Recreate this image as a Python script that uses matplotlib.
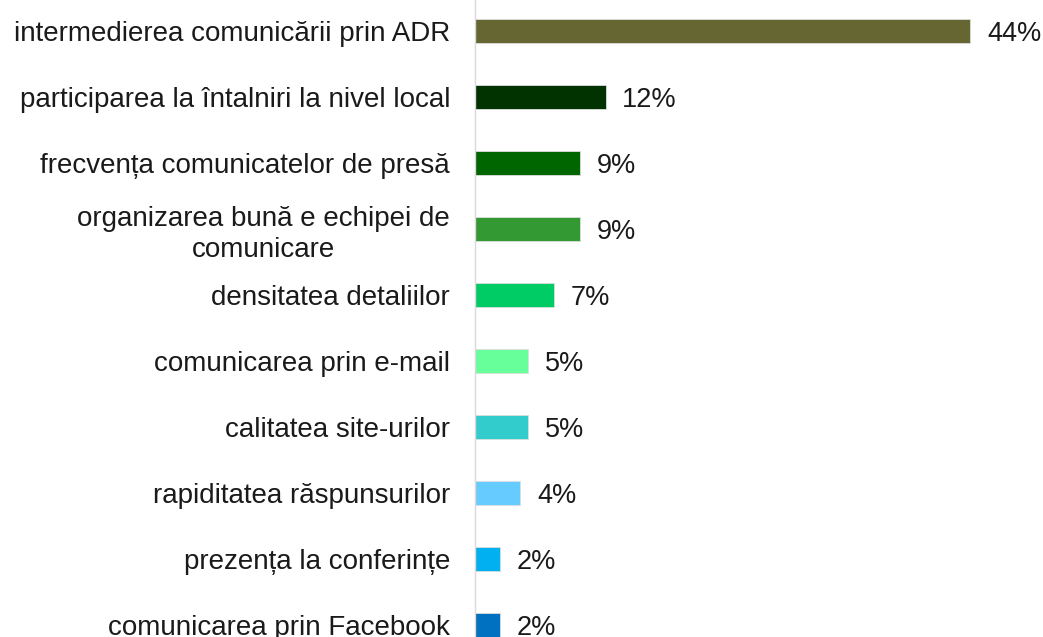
import matplotlib.pyplot as plt

plt.rcParams['font.family'] = ['Liberation Sans', 'DejaVu Sans']

categories = [
    'intermedierea comunicării prin ADR',
    'participarea la întalniri la nivel local',
    'frecvența comunicatelor de presă',
    'organizarea bună e echipei de\ncomunicare',
    'densitatea detaliilor',
    'comunicarea prin e-mail',
    'calitatea site-urilor',
    'rapiditatea răspunsurilor',
    'prezența la conferințe',
    'comunicarea prin Facebook',
]
values = [44.0, 11.6, 9.3, 9.3, 7.0, 4.7, 4.7, 4.0, 2.2, 2.2]
value_labels = ['44%', '12%', '9%', '9%', '7%', '5%', '5%', '4%', '2%', '2%']
colors = ['#666633', '#003300', '#006600', '#339933', '#00CC66',
          '#66FF99', '#33CCCC', '#66CCFF', '#00B0F0', '#0070C0']

fig = plt.figure(figsize=(10.43, 6.37), dpi=100)
ax = fig.add_axes([475 / 1043, 0, 568 / 1043, 1])

pos = list(range(len(categories)))
ax.barh(pos, values, height=0.35, color=colors, edgecolor='#dddddd', linewidth=0.6)

for p, v, lab in zip(pos, values, value_labels):
    ax.text(v + 1.5, p, lab, va='center_baseline', ha='left', fontsize=19.5, color='#1a1a1a')

ax.set_xlim(0, 568 / 11.25)
ax.set_ylim((637 - 31) / 66, -31 / 66)
ax.set_yticks(pos)
ax.set_yticklabels(categories, fontsize=20, color='#1a1a1a', ha='right')
ax.tick_params(axis='y', length=0, pad=18)
for lbl in ax.get_yticklabels():
    lbl.set_multialignment('center')
    lbl.set_linespacing(1.25)
ax.set_xticks([])
for s in ['top', 'right', 'bottom']:
    ax.spines[s].set_visible(False)
ax.spines['left'].set_color('#d9d9d9')
ax.spines['left'].set_linewidth(1)

fig.savefig('out.png', dpi=100)
